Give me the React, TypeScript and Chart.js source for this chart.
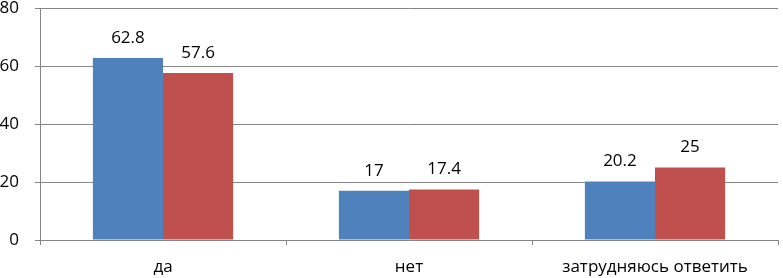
import React, { useEffect, useRef } from "react";
import { Chart, registerables } from "chart.js";

Chart.register(...registerables);

const categories = ["да", "нет", "затрудняюсь ответить"];
const series1 = [62.8, 17, 20.2];
const series2 = [57.6, 17.4, 25];
const yTicks = [0, 20, 40, 60, 80];

const FONT = "'Open Sans', sans-serif";

const labelPlugin = {
  id: "barLabels",
  afterDatasetsDraw(chart: any) {
    const ctx = chart.ctx;
    ctx.save();
    ctx.fillStyle = "#000";
    ctx.font = `17px ${FONT}`;
    ctx.textAlign = "center";
    ctx.textBaseline = "middle";
    chart.data.datasets.forEach((ds: any, i: number) => {
      const meta = chart.getDatasetMeta(i);
      meta.data.forEach((bar: any, j: number) => {
        ctx.fillText(String(ds.data[j]), bar.x, bar.y - 20);
      });
    });
    ctx.restore();
  },
};

export default function App() {
  const ref = useRef<HTMLCanvasElement>(null);
  useEffect(() => {
    if (!ref.current) return;
    const chart = new Chart(ref.current, {
      type: "bar",
      data: {
        labels: categories,
        datasets: [
          { label: "1", data: series1, backgroundColor: "#4F81BD", categoryPercentage: 0.57, barPercentage: 1 },
          { label: "2", data: series2, backgroundColor: "#C0504D", categoryPercentage: 0.57, barPercentage: 1 },
        ],
      },
      options: {
        animation: false,
        responsive: false,
        layout: { padding: { top: 8, right: 5, left: 0, bottom: 0 } },
        plugins: { legend: { display: false }, tooltip: { enabled: false } },
        scales: {
          x: {
            grid: { offset: true, drawOnChartArea: false, tickLength: 5, color: "#868686" },
            border: { color: "#868686" },
            ticks: { color: "#000", font: { family: FONT, size: 17 }, padding: 12, maxRotation: 0 },
            afterFit: (s: any) => { s.height = 38; s.paddingLeft = 0; s.paddingRight = 0; },
          },
          y: {
            min: 0,
            max: 80,
            afterBuildTicks: (s: any) => { s.ticks = yTicks.map((v) => ({ value: v })); },
            grid: { color: "#868686", tickLength: 5 },
            border: { color: "#868686" },
            ticks: { color: "#000", font: { family: FONT, size: 17 }, padding: 16 },
            afterFit: (s: any) => { s.width = 40; s.paddingTop = 0; s.paddingBottom = 0; },
          },
        },
      },
      plugins: [labelPlugin],
    });
    return () => chart.destroy();
  }, []);
  return (
    <div style={{ position: "fixed", left: 0, top: 0, width: 783, height: 278, background: "#fff" }}>
      <canvas ref={ref} width={783} height={278} style={{ width: 783, height: 278 }} />
    </div>
  );
}
